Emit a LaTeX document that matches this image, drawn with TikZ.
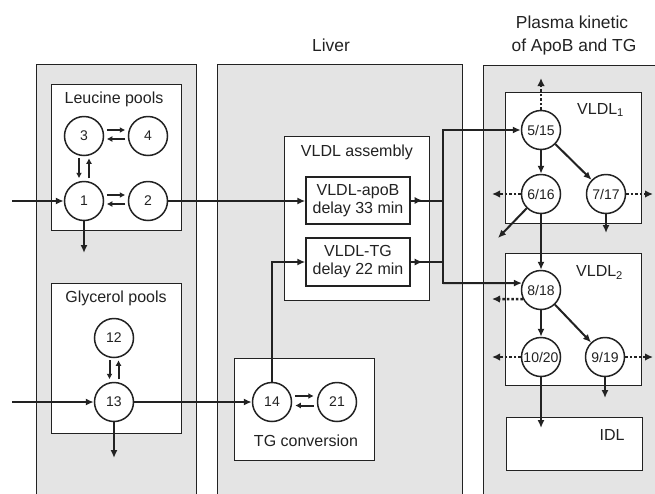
\documentclass[tikz,border=0pt]{standalone}
\usepackage{fontspec}
\setmainfont{Liberation Sans}
\usetikzlibrary{arrows.meta}
\definecolor{panelgray}{HTML}{E4E4E4}
\definecolor{ink}{HTML}{222222}
\begin{document}
\begin{tikzpicture}[x=1pt,y=-1pt,
  panel/.style={draw=ink, line width=1.4pt, fill=panelgray, inner sep=0pt, anchor=north west},
  wbox/.style={draw=ink, line width=1.4pt, fill=white, inner sep=0pt, anchor=north west},
  tbox/.style={draw=ink, line width=1.4pt, fill=white, inner sep=0pt, align=center, text=ink,
               font=\fontsize{16}{18}\selectfont},
  pool/.style={circle, draw=ink, line width=1.5pt, fill=white, minimum size=39pt, inner sep=0pt,
               text=ink, font=\fontsize{14}{15}\selectfont},
  conn/.style={draw=ink, line width=2pt, line cap=rect},
  arr/.style={draw=ink, line width=2pt, -{Latex[length=8pt,width=7pt]}},
  xch/.style={draw=ink, line width=2pt, -{Latex[length=5.5pt,width=6pt]}},
  dotarr/.style={draw=ink, line width=2.4pt, dash pattern=on 2.5pt off 2pt, -{Latex[length=8pt,width=7.5pt]}},
  lbl/.style={font=\fontsize{16}{18}\selectfont, text=ink, inner sep=0pt, anchor=base},
  ttl/.style={font=\fontsize{17.4}{23.4}\selectfont, text=ink, inner sep=0pt, anchor=base},
]
\path[use as bounding box] (0,0) rectangle (655,493);
\clip (0,0) rectangle (655,493);

% panels
\node[panel, minimum width=160pt, minimum height=470pt] (pL) at (36,64) {};
\node[panel, minimum width=245pt, minimum height=470pt] (pM) at (217,64) {};
\node[panel, minimum width=200pt, minimum height=470pt] (pR) at (483,65) {};

% titles
\node[ttl] (tLiver) at (331,51) {Liver};
\node[ttl] (tPl1) at (572,28.3) {Plasma kinetic};
\node[ttl] (tPl2) at (574,51.7) {of ApoB and TG};

% white boxes
\node[wbox, minimum width=130pt, minimum height=146pt] (leu) at (51,84) {};
\node[wbox, minimum width=130pt, minimum height=150pt] (gly) at (51,283) {};
\node[wbox, minimum width=145pt, minimum height=164pt] (asm) at (284,136) {};
\node[wbox, minimum width=140pt, minimum height=102pt] (tgc) at (234,358) {};
\node[wbox, minimum width=136pt, minimum height=131pt] (v1) at (505,92) {};
\node[wbox, minimum width=136pt, minimum height=132pt] (v2) at (505,253) {};
\node[wbox, minimum width=136pt, minimum height=53pt] (idl) at (506,417) {};

\node[tbox, minimum width=104pt, minimum height=47pt] (apoB) at (358,200.5) {VLDL-apoB\\delay 33 min};
\node[tbox, minimum width=104pt, minimum height=48pt] (TG) at (358,262) {VLDL-TG\\delay 22 min};

% box labels
\node[lbl] (lLeu) at (114,103) {Leucine pools};
\node[lbl] (lGly) at (116,302.7) {Glycerol pools};
\node[lbl] (lAsm) at (357,156) {VLDL assembly};
\node[lbl] (lTgc) at (306,446.7) {TG conversion};
\node[lbl, anchor=base west] (lV1) at (577,114) {VLDL\textsubscript{1}};
\node[lbl, anchor=base west] (lV2) at (576,276.7) {VLDL\textsubscript{2}};
\node[lbl] (lIdl) at (612,440) {IDL};

% pools
\node[pool] (c3) at (84,136) {3};
\node[pool] (c4) at (148,136) {4};
\node[pool] (c1) at (84,201) {1};
\node[pool] (c2) at (148,201) {2};
\node[pool] (c12) at (114,338) {12};
\node[pool] (c13) at (114,402) {13};
\node[pool] (c14) at (272,402) {14};
\node[pool] (c21) at (337,402) {21};
\node[pool] (c515) at (541,130) {5/15};
\node[pool] (c616) at (541,194) {6/16};
\node[pool] (c717) at (606,194) {7/17};
\node[pool] (c818) at (541,290) {8/18};
\node[pool] (c1020) at (541,357) {10/20};
\node[pool] (c919) at (605,357) {9/19};

% free ends
\coordinate (inL) at (12,201);
\coordinate (inG) at (12,402);
\coordinate (outL) at (84,253);
\coordinate (outG) at (114,458);
\coordinate (jTop) at (443,130);
\coordinate (jBot) at (443,283);
\coordinate (up515) at (541,78);
\coordinate (l616) at (492,194);
\coordinate (r717) at (653,194);
\coordinate (d616) at (498,238);
\coordinate (d717) at (606,233);
\coordinate (l818) at (492,299);
\coordinate (l1020) at (492,357);
\coordinate (r919) at (653,357);
\coordinate (d919) at (605,398);
\coordinate (d1020) at (541,428);

% exchanges
\draw[xch] ([xshift=2.5pt,yshift=6pt]c3.east) -- ([xshift=-2.5pt,yshift=6pt]c4.west);
\draw[xch] ([xshift=-2.5pt,yshift=-3pt]c4.west) -- ([xshift=2.5pt,yshift=-3pt]c3.east);
\draw[xch] ([xshift=2.5pt,yshift=6pt]c1.east) -- ([xshift=-2.5pt,yshift=6pt]c2.west);
\draw[xch] ([xshift=-2.5pt,yshift=-3pt]c2.west) -- ([xshift=2.5pt,yshift=-3pt]c1.east);
\draw[xch] ([xshift=-5pt,yshift=-2pt]c3.south) -- ([xshift=-5pt,yshift=2.5pt]c1.north);
\draw[xch] ([xshift=5pt,yshift=2.5pt]c1.north) -- ([xshift=5pt,yshift=-2pt]c3.south);
\draw[xch] ([xshift=-4.5pt,yshift=-2pt]c12.south) -- ([xshift=-4.5pt,yshift=2.5pt]c13.north);
\draw[xch] ([xshift=4.5pt,yshift=2.5pt]c13.north) -- ([xshift=4.5pt,yshift=-2pt]c12.south);
\draw[xch] ([xshift=3pt,yshift=6pt]c14.east) -- ([xshift=-3pt,yshift=6pt]c21.west);
\draw[xch] ([xshift=-3pt,yshift=-3.5pt]c21.west) -- ([xshift=3pt,yshift=-3.5pt]c14.east);

% left and middle connectors
\draw[arr] (inL) -- (c1.west);
\draw[arr] (inG) -- (c13.west);
\draw[arr] (c1.south) -- (outL);
\draw[arr] (c13.south) -- (outG);
\draw[arr] (c2.east) -- (c2.east -| apoB.west);
\draw[arr] (c13.east) -- (c14.west);
\draw[arr] (c14.north) |- (TG.west);

% assembly outputs
\draw[conn] (apoB.east) -- (apoB.east -| jTop);
\draw[conn] (TG.east) -- (TG.east -| jTop);
\draw[arr] (apoB.east) -- ([xshift=12pt]apoB.east);
\draw[arr] (TG.east) -- ([xshift=12pt]TG.east);
\draw[conn] (jTop) -- (jBot);
\draw[arr] (jTop) -- (c515.west);
\draw[arr] (jBot) -- (c818.160);

% plasma kinetics
\draw[dotarr] (c515.north) -- (up515);
\draw[arr] (c515) -- (c616);
\draw[arr] (c515) -- (c717);
\draw[dotarr] (c616.west) -- (l616);
\draw[dotarr] (c717.east) -- (r717);
\draw[arr] (c616.225) -- (d616);
\draw[arr] (c616) -- (c818);
\draw[arr] (c717.south) -- (d717);
\draw[dotarr] (c818.207) -- (l818);
\draw[arr] (c818) -- (c1020);
\draw[arr] (c818) -- (c919);
\draw[dotarr] (c1020.west) -- (l1020);
\draw[dotarr] (c919.east) -- (r919);
\draw[arr] (c919.south) -- (d919);
\draw[arr] (c1020.south) -- (d1020);
\end{tikzpicture}
\end{document}
